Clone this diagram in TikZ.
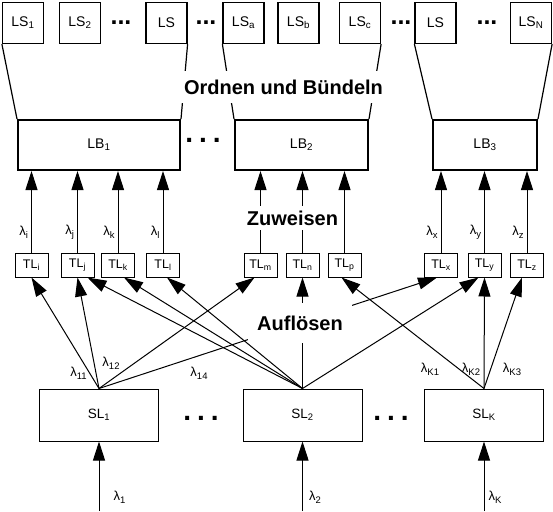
\documentclass[tikz,border=0pt]{standalone}
\usepackage{fontspec}
\setmainfont{Liberation Sans}
\usetikzlibrary{arrows.meta}
\newcommand{\lam}[1]{λ\raisebox{-0.45ex}{\fontsize{9.5}{10}\selectfont#1}}
\begin{document}
\begin{tikzpicture}[x=1pt,y=1pt,line width=1pt,
  lsbox/.style={draw,line width=1.2pt,minimum size=41pt,inner sep=0pt,
    font=\fontsize{14}{16}\selectfont},
  lbbox/.style={draw,line width=2pt,minimum height=50pt,inner sep=0pt,
    font=\fontsize{14}{16}\selectfont},
  tlbox/.style={draw,minimum width=33pt,minimum height=24pt,inner sep=0pt,
    font=\fontsize{12.5}{14}\selectfont},
  slbox/.style={draw,minimum width=119pt,minimum height=52pt,inner sep=0pt,
    font=\fontsize{13.5}{15}\selectfont},
  stage/.style={fill=white,font=\fontsize{20}{22}\selectfont\bfseries},
  lab/.style={inner sep=0pt,font=\fontsize{13}{14}\selectfont},
  dotsrow/.style={inner sep=0pt,font=\fontsize{25}{25}\selectfont\bfseries},
  dotsmid/.style={inner sep=0pt,font=\fontsize{28}{28}\selectfont\bfseries},
  arr/.style={-{Triangle[length=19pt,width=12pt]}}]
\useasboundingbox (0,0) rectangle (553,-511);
% Leitungsseiten
\node[lsbox](ls1) at (23,-23) {LS\textsubscript{1}};
\node[lsbox](ls2) at (80,-23) {LS\textsubscript{2}};
\node[lsbox](ls3) at (166.5,-23) {LS};
\node[lsbox](lsa) at (243.5,-23) {LS\textsubscript{a}};
\node[lsbox](lsb) at (298.5,-23) {LS\textsubscript{b}};
\node[lsbox](lsc) at (360,-23) {LS\textsubscript{c}};
\node[lsbox](ls7) at (435.5,-23) {LS};
\node[lsbox](lsn) at (531,-23) {LS\textsubscript{N}};
\node[dotsrow](d1) at (121,-23) {...};
\node[dotsrow](d2) at (206,-23) {...};
\node[dotsrow](d3) at (401,-23) {...};
\node[dotsrow](d4) at (487,-23) {...};
% Leitungsbuendel
\node[lbbox,minimum width=162pt](lb1) at (99,-145) {LB\textsubscript{1}};
\node[lbbox,minimum width=133pt](lb2) at (301.5,-145) {LB\textsubscript{2}};
\node[lbbox,minimum width=104pt](lb3) at (485,-145) {LB\textsubscript{3}};
\node[dotsmid](d5) at (203,-140) {.\hspace{6pt}.\hspace{6pt}.};
\draw[line width=1.2pt] (ls1.south west) -- (lb1.north west);
\draw[line width=1.2pt] (ls3.south east) -- (lb1.north east);
\draw[line width=1.2pt] (lsa.south west) -- (lb2.north west);
\draw[line width=1.2pt] (lsc.south east) -- (lb2.north east);
\draw[line width=1.2pt] (ls7.south west) -- (lb3.north west);
\draw[line width=1.2pt] (lsn.south east) -- (lb3.north east);
% Teilleitungen
\node[tlbox](tli) at (31.5,-265) {TL\textsubscript{i}};
\node[tlbox](tlj) at (77.5,-265) {TL\textsubscript{j}};
\node[tlbox](tlk) at (118,-265) {TL\textsubscript{k}};
\node[tlbox](tll) at (163,-265) {TL\textsubscript{l}};
\node[tlbox](tlm) at (260.5,-265) {TL\textsubscript{m}};
\node[tlbox](tln) at (302.5,-265) {TL\textsubscript{n}};
\node[tlbox](tlp) at (344.5,-265) {TL\textsubscript{p}};
\node[tlbox](tlx) at (441,-265) {TL\textsubscript{x}};
\node[tlbox](tly) at (484.5,-265) {TL\textsubscript{y}};
\node[tlbox](tlz) at (527,-265) {TL\textsubscript{z}};
\foreach \t/\b/\l in {tli/lb1/i,tlj/lb1/j,tlk/lb1/k,tll/lb1/l,tlx/lb3/x,tly/lb3/y,tlz/lb3/z}
  \draw[arr] (\t.north) -- (\t.north |- \b.south) node[lab,pos=0.25,left=3pt] {\lam{\l}};
\foreach \t in {tlm,tln,tlp}
  \draw[arr] (\t.north) -- (\t.north |- lb2.south);
% Sammelleitungen
\node[slbox](sl1) at (99,-415) {SL\textsubscript{1}};
\node[slbox](sl2) at (302.5,-415) {SL\textsubscript{2}};
\node[slbox](slk) at (484,-415) {SL\textsubscript{K}};
\node[dotsmid](d6) at (201,-418) {.\hspace{6pt}.\hspace{6pt}.};
\node[dotsmid](d7) at (391,-418) {.\hspace{6pt}.\hspace{6pt}.};
\coordinate (in1) at (99,-511);
\coordinate (in2) at (302.5,-511);
\coordinate (ink) at (484,-511);
\draw[arr] (in1) -- (sl1.south) node[lab,pos=0.2,right=14pt] {\lam{1}};
\draw[arr] (in2) -- (sl2.south) node[lab,pos=0.2,right=6pt] {\lam{2}};
\draw[arr] (ink) -- (slk.south) node[lab,pos=0.2,right=4pt] {\lam{K}};
% Aufloesen
\draw[arr] (sl1.north) -- (tli.south);
\draw[arr] (sl1.north) -- (tlj.south);
\draw[arr] (sl1.north) -- ([xshift=-6pt]tlm.south);
\draw[arr] (sl1.north) -- ([xshift=-4pt]tlx.south);
\draw[arr] (sl2.north) -- ([xshift=10pt]tlj.south);
\draw[arr] (sl2.north) -- ([xshift=6pt]tlk.south);
\draw[arr] (sl2.north) -- ([xshift=4pt]tll.south);
\draw[arr] (sl2.north) -- (tln.south);
\draw[arr] (sl2.north) -- ([xshift=-6pt]tly.south);
\draw[arr] (slk.north) -- ([xshift=-3pt]tlp.south);
\draw[arr] (slk.north) -- (tly.south);
\draw[arr] (slk.north) -- ([xshift=-5pt]tlz.south);
\node[lab](l11) at (78.5,-373) {\lam{11}};
\node[lab](l12) at (111,-363) {\lam{12}};
\node[lab](l14) at (199,-373) {\lam{14}};
\node[lab](lk1) at (430,-369) {\lam{K1}};
\node[lab](lk2) at (471,-369) {\lam{K2}};
\node[lab](lk3) at (512,-369) {\lam{K3}};
% Stufen
\node[stage,inner xsep=6pt,inner ysep=9pt](ordnen) at (283.5,-87) {Ordnen und Bündeln};
\node[stage,inner xsep=3pt,inner ysep=5pt](zuweisen) at (292.5,-218) {Zuweisen};
\node[stage,inner xsep=9pt,inner ysep=13pt](aufloesen) at (300,-323) {Auflösen};
\end{tikzpicture}
\end{document}
